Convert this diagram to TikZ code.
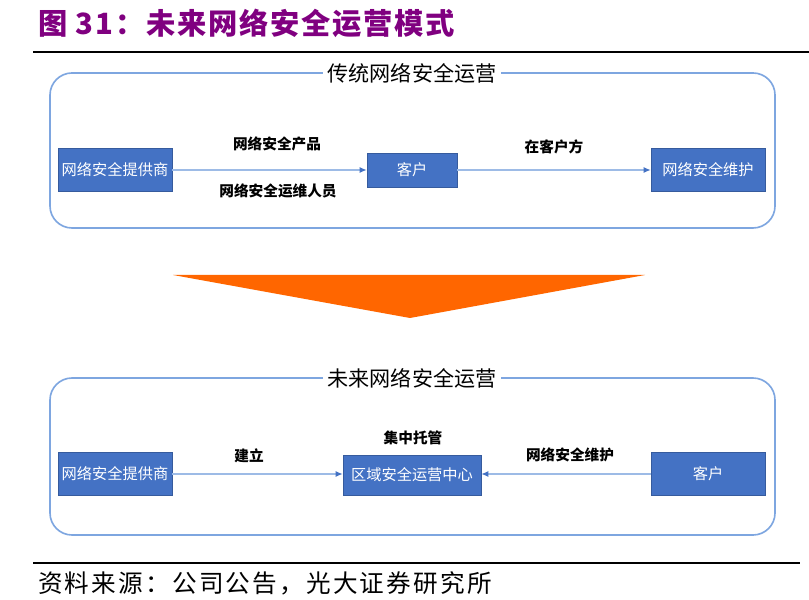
\documentclass[tikz,border=0pt]{standalone}
\usepackage{fontspec}
\setmainfont{Noto Sans CJK SC}
\usetikzlibrary{arrows.meta}

\definecolor{boxblue}{HTML}{4472C4}
\definecolor{framblue}{HTML}{7EA6E0}
\definecolor{linkblue}{HTML}{9DBBE6}
\definecolor{titlepurple}{HTML}{800080}
\definecolor{fatorange}{HTML}{FF6600}

\tikzset{
  unitbox/.style={draw=boxblue!80!black, fill=boxblue, text=white, inner sep=0pt,
    font=\fontsize{13}{15}\selectfont},
  frame/.style={draw=framblue, line width=1.4pt, rounded corners=0.66cm},
  frametitle/.style={fill=white, inner xsep=4pt, inner ysep=1pt,
    font=\fontsize{18}{20}\selectfont},
  flowlabel/.style={font=\bfseries\fontsize{12.5}{14}\selectfont},
  link/.style={draw=linkblue, line width=1pt,
    -{Latex[length=6pt,width=5pt,fill=boxblue,color=boxblue]}},
}

\begin{document}
\begin{tikzpicture}[x=0.03cm, y=-0.03cm]
    \useasboundingbox (0,0) rectangle (809,600);

    % heading and rules
    \node[anchor=west, text=titlepurple, font=\bfseries\fontsize{25}{28}\selectfont\addfontfeature{LetterSpace=6}] (head) at (34,23) {图 31：未来网络安全运营模式};
    \draw[line width=1.3pt] (33,52) -- (809,52);
    \draw[line width=1.3pt] (33,563) -- (800,563);
    \node[anchor=west, font=\fontsize{21}{24}\selectfont\addfontfeature{LetterSpace=9}] (source) at (34,583) {资料来源：公司公告，光大证券研究所};

    % traditional operation
    \draw[frame] (50,73) rectangle (775,228);
    \node[frametitle] (oldtitle) at (412,73) {传统网络安全运营};

    \node[unitbox, minimum width=3.42cm, minimum height=1.29cm] (oldprov) at (115,170) {网络安全提供商};
    \node[unitbox, minimum width=2.7cm, minimum height=1.02cm] (oldcust) at (412,170) {客户};
    \node[unitbox, minimum width=3.42cm, minimum height=1.29cm] (oldmaint) at (708,170) {网络安全维护};

    \draw[link] (oldprov) -- (oldcust);
    \draw[link] (oldcust) -- (oldmaint);

    \node[flowlabel] (prodlabel) at (277,144) {网络安全产品};
    \node[flowlabel] (stafflabel) at (278,191) {网络安全运维人员};
    \node[flowlabel] (sitelabel) at (554,147) {在客户方};

    % big arrow down
    \fill[fatorange] (173,275) -- (645,275) -- (410,318) -- cycle;

    % future operation
    \draw[frame] (50,378) rectangle (775,535);
    \node[frametitle] (newtitle) at (412,378) {未来网络安全运营};

    \node[unitbox, minimum width=3.42cm, minimum height=1.29cm] (newprov) at (115,474) {网络安全提供商};
    \node[unitbox, minimum width=4.14cm, minimum height=1.2cm] (soc) at (412,475) {区域安全运营中心};
    \node[unitbox, minimum width=3.42cm, minimum height=1.29cm] (newcust) at (708,474) {客户};

    \draw[link] (newprov) -- (newprov -| soc.west);
    \draw[link] (newcust) -- (newcust -| soc.east);

    \node[flowlabel] (buildlabel) at (249,456) {建立};
    \node[flowlabel] (hostlabel) at (413,438) {集中托管};
    \node[flowlabel] (maintlabel) at (570,455) {网络安全维护};
\end{tikzpicture}
\end{document}
